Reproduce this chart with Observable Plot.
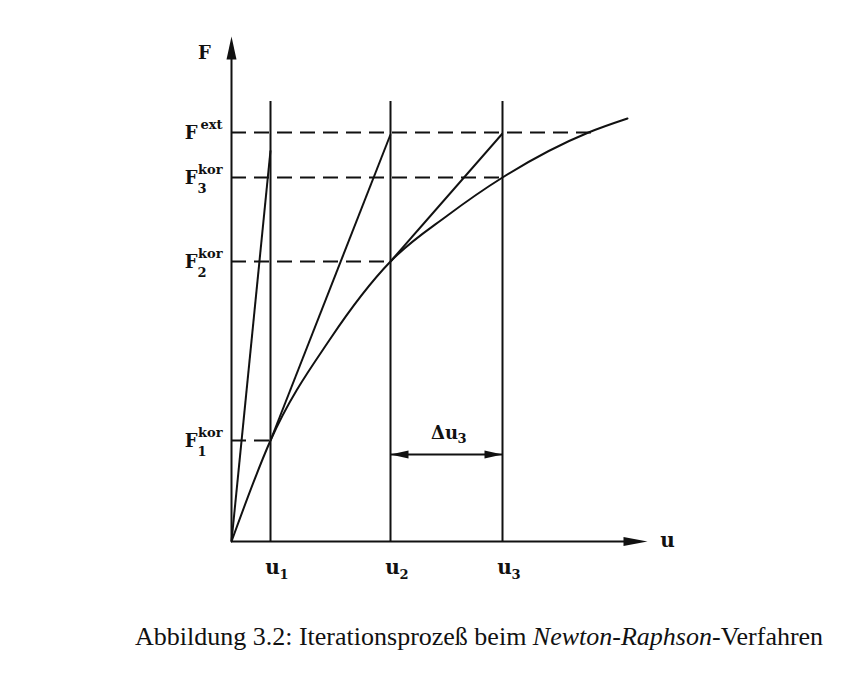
<!DOCTYPE html>
<html>
<head>
<meta charset="utf-8">
<script src="https://cdn.jsdelivr.net/npm/d3@7"></script>
<script src="https://cdn.jsdelivr.net/npm/@observablehq/plot@0.6"></script>
<style>
  body { margin: 0; background: white; }
  #wrap { position: relative; width: 848px; height: 678px; background: white; }
  #caption { position: absolute; left: 135px; top: 622px; font-family: "Liberation Serif", serif; font-size: 26px; color: #111; white-space: nowrap; }
</style>
</head>
<body>
<div id="wrap">
  <div id="chart"></div>
  <div id="caption">Abbildung 3.2: Iterationsprozeß beim <i>Newton-Raphson</i>-Verfahren</div>
</div>
<script>
// Axis extents (data units)
const uMax = 4.16;
const fMax = 5.05;
const lineTop = 4.40;

// Iteration displacements u_i
const uSubs = ["1", "2", "3"];
const uValues = [0.39, 1.59, 2.71];

// Force levels on the F axis
const fSups = ["ext", "kor", "kor", "kor"];
const fSubs = ["", "3", "2", "1"];
const fValues = [4.09, 3.64, 2.80, 1.01];
const fDashEnd = [3.61, 2.71, 1.59, 0.39];

// Nonlinear load-displacement curve
const curveU = [0, 0.39, 0.99, 1.59, 2.16, 2.71, 3.57, 3.96];
const curveF = [0, 1.01, 2.03, 2.80, 3.26, 3.64, 4.09, 4.23];

// Tangent (stiffness) lines
const tanU1 = [0, 0.39, 1.59];
const tanF1 = [0, 1.01, 2.80];
const tanU2 = [0.39, 1.59, 2.71];
const tanF2 = [3.91, 4.07, 4.08];

// Delta u_3 dimension
const duLevel = 0.87;

const curve = curveU.map((u, i) => ({u, F: curveF[i]}));
const tangents = tanU1.map((u, i) => ({u1: u, F1: tanF1[i], u2: tanU2[i], F2: tanF2[i]}));
const fLevels = fValues.map((F, i) => ({F, sup: fSups[i], sub: fSubs[i], end: fDashEnd[i]}));
const uLevels = uValues.map((u, i) => ({u, sub: uSubs[i]}));

const head = (len, half) => ({
  draw(ctx) { ctx.moveTo(0, 0); ctx.lineTo(-half, len); ctx.lineTo(half, len); ctx.closePath(); }
});

const font = "DejaVu Serif";
const black = "#111";

const chart = Plot.plot({
  width: 848,
  height: 600,
  x: {domain: [0, uMax], range: [231, 647], axis: null},
  y: {domain: [0, fMax], range: [541, 36], axis: null},
  style: {background: "white", overflow: "visible"},
  marks: [
    // axes
    Plot.ruleX([0], {y1: 0, y2: fMax * 0.97, stroke: black, strokeWidth: 2}),
    Plot.ruleY([0], {x1: 0, x2: uMax * 0.97, stroke: black, strokeWidth: 2}),
    Plot.dot([{u: 0, F: fMax}], {x: "u", y: "F", symbol: head(23, 5), rotate: 0, fill: black, stroke: null}),
    Plot.dot([{u: uMax, F: 0}], {x: "u", y: "F", symbol: head(24, 4.5), rotate: 90, fill: black, stroke: null}),
    // vertical lines at u_i
    Plot.ruleX(uLevels, {x: "u", y1: 0, y2: lineTop, stroke: black, strokeWidth: 2}),
    // dashed force levels
    Plot.ruleY(fLevels, {y: "F", x1: 0, x2: "end", stroke: black, strokeWidth: 2, strokeDasharray: "15,8"}),
    // curve
    Plot.line(curve, {x: "u", y: "F", curve: "monotone-x", stroke: black, strokeWidth: 2}),
    // tangents
    Plot.link(tangents, {x1: "u1", y1: "F1", x2: "u2", y2: "F2", stroke: black, strokeWidth: 2}),
    // delta u3 dimension
    Plot.ruleY([duLevel], {x1: uValues[1], x2: uValues[2], stroke: black, strokeWidth: 2}),
    Plot.dot([{u: uValues[1], F: duLevel}], {x: "u", y: "F", symbol: head(18, 4), rotate: -90, fill: black, stroke: null}),
    Plot.dot([{u: uValues[2], F: duLevel}], {x: "u", y: "F", symbol: head(18, 4), rotate: 90, fill: black, stroke: null}),
    Plot.text([{u: (uValues[1] + uValues[2]) / 2, F: duLevel}], {x: "u", y: "F", text: () => "\u0394u", textAnchor: "middle", lineAnchor: "bottom", dx: -2, dy: -16, fontFamily: font, fontWeight: "bold", fontSize: 18, fill: black}),
    Plot.text([{u: (uValues[1] + uValues[2]) / 2, F: duLevel}], {x: "u", y: "F", text: () => "3", textAnchor: "start", lineAnchor: "bottom", dx: 11, dy: -12, fontFamily: font, fontWeight: "bold", fontSize: 13, fill: black}),
    // axis labels
    Plot.text([{u: 0, F: fMax}], {x: "u", y: "F", text: () => "F", textAnchor: "middle", lineAnchor: "bottom", dx: -27, dy: 22, fontFamily: font, fontWeight: "bold", fontSize: 18, fill: black}),
    Plot.text([{u: uMax, F: 0}], {x: "u", y: "F", text: () => "u", textAnchor: "middle", lineAnchor: "bottom", dx: 20, dy: 5, fontFamily: font, fontWeight: "bold", fontSize: 20, fill: black}),
    // u_i labels
    Plot.text(uLevels, {x: "u", y: () => 0, text: () => "u", textAnchor: "middle", lineAnchor: "bottom", dx: 2, dy: 32, fontFamily: font, fontWeight: "bold", fontSize: 20, fill: black}),
    Plot.text(uLevels, {x: "u", y: () => 0, text: "sub", textAnchor: "start", lineAnchor: "bottom", dx: 9, dy: 37, fontFamily: font, fontWeight: "bold", fontSize: 13, fill: black}),
    // F labels
    Plot.text(fLevels, {x: () => 0, y: "F", text: () => "F", textAnchor: "end", lineAnchor: "bottom", dx: -34, dy: 6, fontFamily: font, fontWeight: "bold", fontSize: 18, fill: black}),
    Plot.text(fLevels, {x: () => 0, y: "F", text: "sup", textAnchor: "end", lineAnchor: "bottom", dx: -9, dy: -4, fontFamily: font, fontWeight: "bold", fontSize: 13, fill: black}),
    Plot.text(fLevels, {x: () => 0, y: "F", text: "sub", textAnchor: "start", lineAnchor: "bottom", dx: -34, dy: 15, fontFamily: font, fontWeight: "bold", fontSize: 13, fill: black})
  ]
});
document.getElementById("chart").appendChild(chart);
</script>
</body>
</html>
